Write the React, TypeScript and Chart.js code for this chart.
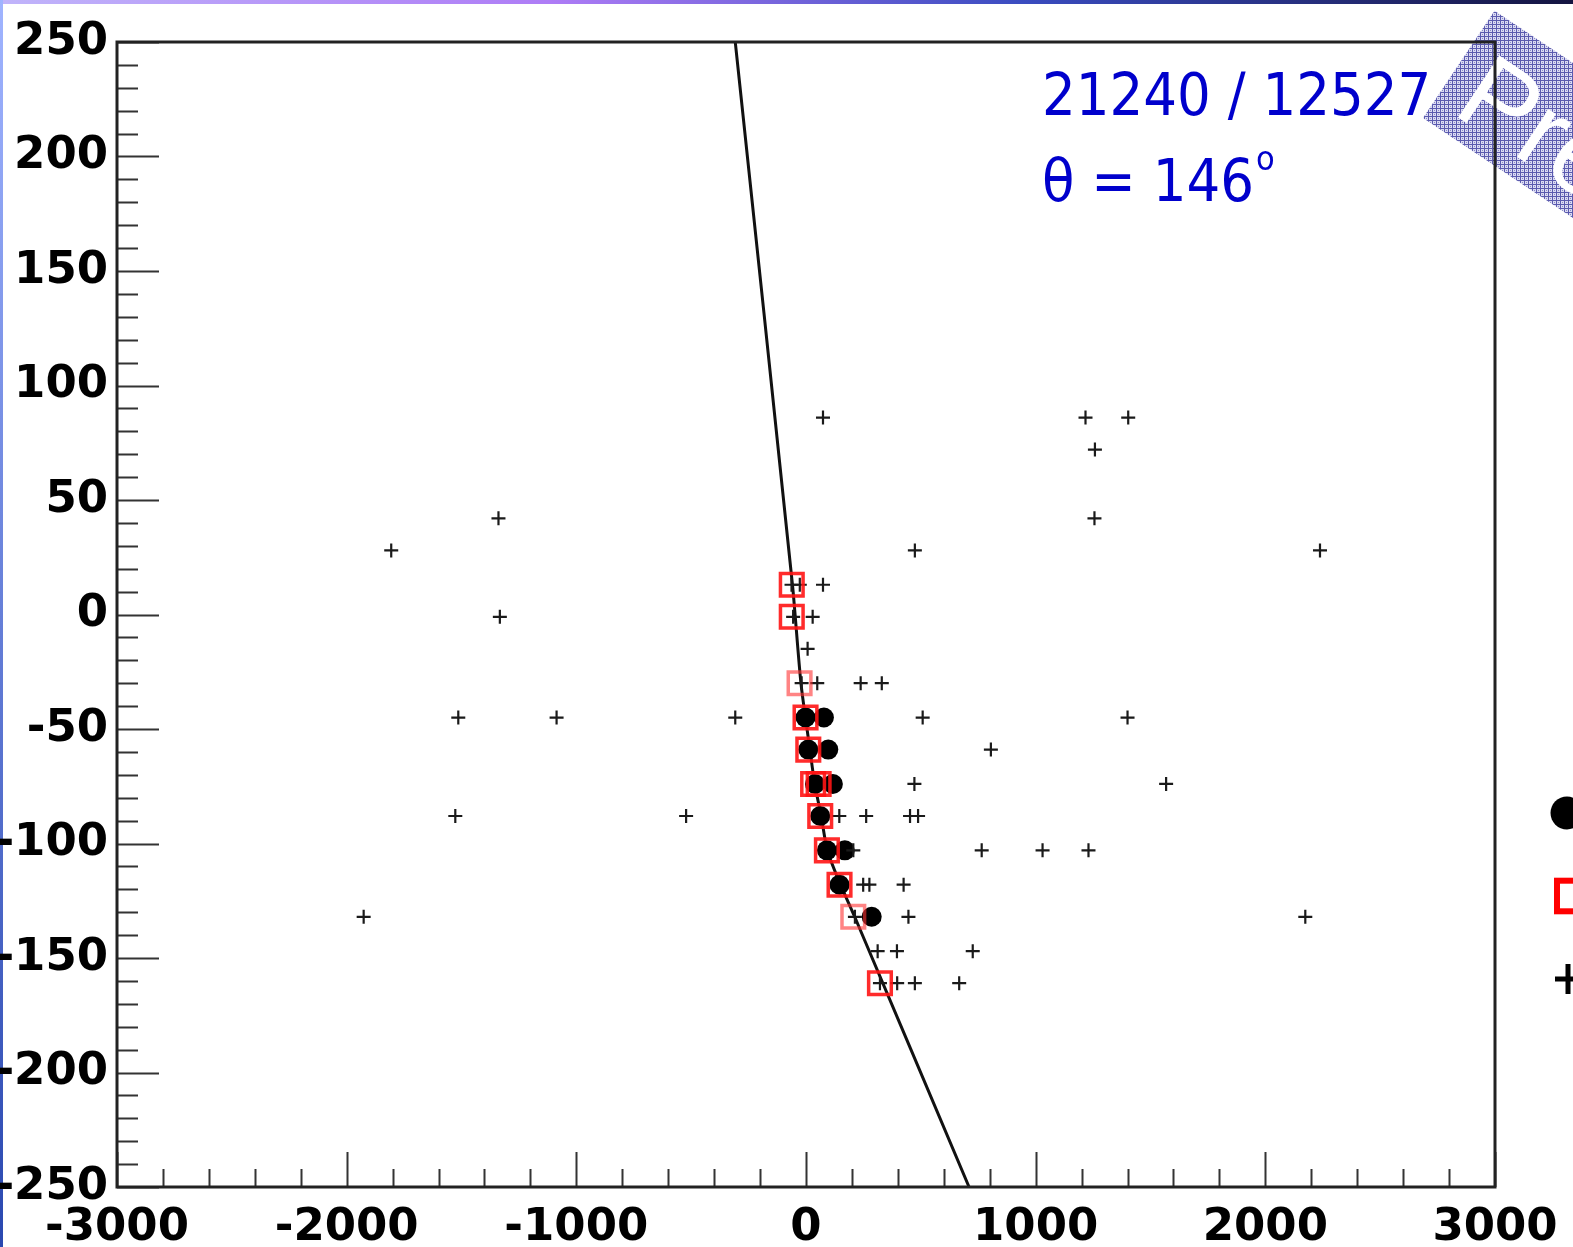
import React, { useEffect, useRef } from 'react';
import { Chart, registerables } from 'chart.js';

Chart.register(...registerables);

const W = 1573;
const H = 1247;

// axis ranges and ticks
const xMin = -3000;
const xMax = 3000;
const xMajorStep = 1000;
const xMinorStep = 200;
const yMin = -250;
const yMax = 250;
const yMajorStep = 50;
const yMinorStep = 10;

// fitted track
const trackY = [250, 13, -30, -59, -74, -88, -103, -117, -132, -250];
const trackX = [-308, -59, -22, 17, 38, 66, 93, 146, 212, 710];

// filled circles (black)
const circX = [-2, 78, 10, 97, 39, 117, 62, 91, 169, 146, 286];
const circY = [-45, -45, -59, -59, -74, -74, -88, -103, -103, -118, -132];

// open squares (red)
const sqX = [-62, -62, -28, -2, 10, 31, 55, 62, 91, 146, 206, 322];
const sqY = [13, -1, -30, -45, -59, -74, -74, -88, -103, -118, -132, -161];
const sqFaint = [false, false, true, false, false, false, false, false, false, false, true, false];

// crosses (black)
const plusX = [
  74, 1217, 1403,
  1258,
  -1339, 1256,
  -1806, 474, 2238,
  -63, -27, 74,
  -1333, -56, 29,
  7,
  -19, 49, 238, 330,
  -1514, -1086, -308, 508, 1400,
  805,
  472, 1568,
  -1527, -522, 145, 262, 453, 488,
  206, 765, 1030, 1230,
  249, 276, 425,
  -1926, 213, 446, 2174,
  312, 396, 726,
  322, 397, 474, 667,
];
const plusY = [
  86, 86, 86,
  72,
  42, 42,
  28, 28, 28,
  13, 13, 13,
  -1, -1, -1,
  -15,
  -30, -30, -30, -30,
  -45, -45, -45, -45, -45,
  -59,
  -74, -74,
  -88, -88, -88, -88, -88, -88,
  -103, -103, -103, -103,
  -118, -118, -118,
  -132, -132, -132, -132,
  -147, -147, -147,
  -161, -161, -161, -161,
];

const statLine = '21240 / 12527';
const angleText = 'θ = 146';
const degreeMark = 'o';
const watermarkText = 'Preliminary';

const tickFont = { family: '"DejaVu Sans", sans-serif', weight: 'bold' as const, size: 45 };

function pts(xs: number[], ys: number[]) {
  return xs.map((x, i) => ({ x, y: ys[i] }));
}

const decoPlugin = {
  id: 'deco',
  beforeDraw(chart: any) {
    const ctx: CanvasRenderingContext2D = chart.ctx;
    ctx.save();
    ctx.fillStyle = '#ffffff';
    ctx.fillRect(0, 0, W, H);
    // slide edges
    const gTop = ctx.createLinearGradient(0, 0, W, 0);
    gTop.addColorStop(0, '#c0b4fa');
    gTop.addColorStop(0.35, '#ae7cf6');
    gTop.addColorStop(0.65, '#3a4cc0');
    gTop.addColorStop(1, '#141440');
    ctx.fillStyle = gTop;
    ctx.fillRect(0, 0, W, 4);
    const gLeft = ctx.createLinearGradient(0, 0, 0, H);
    gLeft.addColorStop(0, '#a0b4ff');
    gLeft.addColorStop(1, '#2a48b0');
    ctx.fillStyle = gLeft;
    ctx.fillRect(0, 0, 3, H);

    // watermark band
    const pc = document.createElement('canvas');
    pc.width = 4;
    pc.height = 4;
    const p = pc.getContext('2d')!;
    p.fillStyle = '#dadaf2';
    p.fillRect(0, 0, 4, 4);
    p.fillStyle = '#5a5aae';
    p.fillRect(0, 0, 4, 1);
    p.fillRect(0, 0, 1, 4);
    p.fillStyle = '#8a8ac8';
    p.fillRect(2, 2, 1, 1);
    const pattern = ctx.createPattern(pc, 'repeat')!;
    const ang = Math.atan2(100, 150);
    ctx.translate(1423, 118);
    ctx.rotate(ang);
    ctx.beginPath();
    ctx.rect(0, -129, 600, 129);
    ctx.setTransform(1, 0, 0, 1, 0, 0);
    ctx.fillStyle = pattern;
    ctx.fill();
    ctx.translate(1423, 118);
    ctx.rotate(ang);
    ctx.fillStyle = '#ffffff';
    ctx.font = '108px "Liberation Sans", sans-serif';
    ctx.textBaseline = 'alphabetic';
    ctx.textAlign = 'left';
    ctx.fillText(watermarkText, 20, -20);
    ctx.restore();
  },
  afterDraw(chart: any) {
    const ctx: CanvasRenderingContext2D = chart.ctx;
    const { left, right, top, bottom } = chart.chartArea;
    const xs = chart.scales.x;
    const ys = chart.scales.y;
    ctx.save();
    // ticks
    ctx.strokeStyle = '#333333';
    ctx.lineWidth = 2;
    ctx.beginPath();
    for (let v = yMin; v <= yMax; v += yMinorStep) {
      const py = Math.round(ys.getPixelForValue(v)) + 0.5;
      const len = v % yMajorStep === 0 ? 42 : 21;
      ctx.moveTo(left, py);
      ctx.lineTo(left + len, py);
    }
    for (let v = xMin; v <= xMax; v += xMinorStep) {
      const px = Math.round(xs.getPixelForValue(v)) + 0.5;
      const len = v % xMajorStep === 0 ? 35 : 18;
      ctx.moveTo(px, bottom);
      ctx.lineTo(px, bottom - len);
    }
    ctx.stroke();
    // frame
    ctx.strokeStyle = '#222222';
    ctx.lineWidth = 3;
    ctx.strokeRect(left, top, right - left, bottom - top);

    // stat text
    ctx.fillStyle = '#0000cc';
    ctx.textAlign = 'left';
    ctx.textBaseline = 'alphabetic';
    ctx.font = '59px "DejaVu Sans Condensed", "DejaVu Sans", sans-serif';
    ctx.fillText(statLine, 1042, 115);
    ctx.fillText(angleText, 1042, 201);
    const wA = ctx.measureText(angleText).width;
    ctx.font = '34px "DejaVu Sans Condensed", "DejaVu Sans", sans-serif';
    ctx.fillText(degreeMark, 1042 + wA + 2, 170);

    // legend glyphs (labels are off the picture)
    ctx.fillStyle = '#000000';
    ctx.beginPath();
    ctx.arc(1567, 813, 16.5, 0, Math.PI * 2);
    ctx.fill();
    ctx.strokeStyle = '#ff0000';
    ctx.lineWidth = 6;
    ctx.strokeRect(1557, 880.7, 40, 30.6);
    ctx.strokeStyle = '#000000';
    ctx.lineWidth = 5;
    ctx.beginPath();
    ctx.moveTo(1555, 979);
    ctx.lineTo(1590, 979);
    ctx.moveTo(1568, 964);
    ctx.lineTo(1568, 994);
    ctx.stroke();
    ctx.restore();
  },
};

export default function App() {
  const ref = useRef<HTMLCanvasElement | null>(null);
  useEffect(() => {
    document.body.style.margin = '0';
    document.body.style.overflow = 'hidden';
    const canvas = ref.current!;
    const chart = new Chart(canvas, {
      type: 'scatter',
      data: {
        datasets: [
          {
            label: 'track',
            data: pts(trackX, trackY),
            showLine: true,
            borderColor: '#111111',
            borderWidth: 3,
            pointRadius: 0,
            tension: 0.25,
            order: 4,
          } as any,
          {
            label: 'circles',
            data: pts(circX, circY),
            pointStyle: 'circle',
            pointRadius: 10,
            backgroundColor: '#000000',
            borderColor: '#000000',
            borderWidth: 0,
            order: 3,
          },
          {
            label: 'crosses',
            data: pts(plusX, plusY),
            pointStyle: 'cross',
            pointRadius: 7,
            borderColor: '#1a1a1a',
            borderWidth: 2.2,
            order: 2,
          },
          {
            label: 'squares',
            data: pts(sqX, sqY),
            pointStyle: 'rect',
            pointRadius: 16,
            backgroundColor: 'rgba(0,0,0,0)',
            borderColor: sqFaint.map((f) => (f ? 'rgba(255,50,50,0.6)' : 'rgba(255,20,20,0.9)')),
            borderWidth: 3.5,
            order: 1,
          },
        ],
      },
      options: {
        responsive: false,
        animation: false,
        events: [],
        layout: { padding: { top: 42, right: 78, left: 0, bottom: 0 } },
        plugins: { legend: { display: false }, tooltip: { enabled: false } },
        scales: {
          x: {
            type: 'linear',
            min: xMin,
            max: xMax,
            afterFit: (s: any) => {
              s.height = 60;
            },
            grid: { display: false, drawTicks: false },
            border: { display: false },
            ticks: {
              stepSize: xMajorStep,
              color: '#000000',
              font: tickFont,
              padding: 14,
              autoSkip: false,
              maxRotation: 0,
              callback: (v: any) => String(v),
            },
          },
          y: {
            type: 'linear',
            min: yMin,
            max: yMax,
            afterFit: (s: any) => {
              s.width = 117;
            },
            grid: { display: false, drawTicks: false },
            border: { display: false },
            ticks: {
              stepSize: yMajorStep,
              color: '#000000',
              font: tickFont,
              padding: 9,
              autoSkip: false,
              callback: (v: any) => String(v),
            },
          },
        },
      },
      plugins: [decoPlugin],
    });
    return () => chart.destroy();
  }, []);
  return (
    <div style={{ width: W, height: H, overflow: 'hidden' }}>
      <canvas ref={ref} width={W} height={H} style={{ display: 'block' }} />
    </div>
  );
}
